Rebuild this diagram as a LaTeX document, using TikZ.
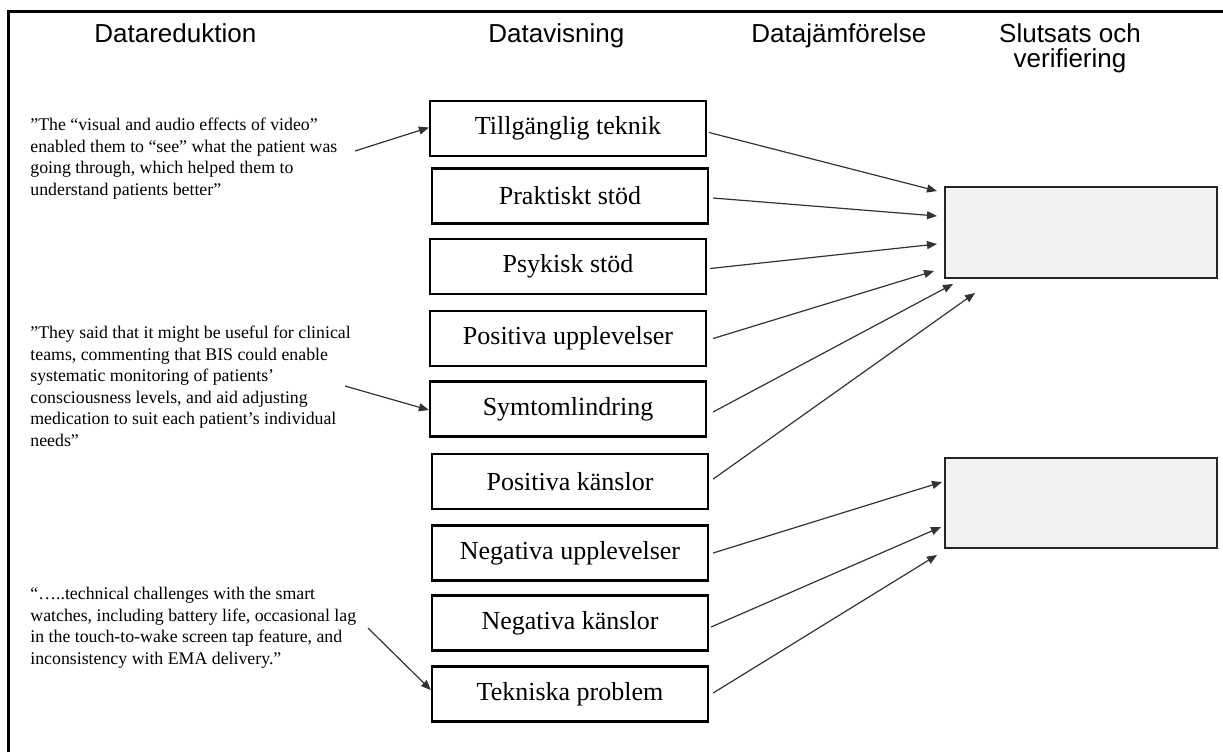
\documentclass[tikz,border=0pt]{standalone}
\usepackage{fontspec}
\setmainfont{Liberation Serif}
\newfontfamily\hdfont{Liberation Sans}
\usetikzlibrary{arrows.meta}
\tikzset{
  catbox/.style={draw=black, line width=1.1pt, fill=white, minimum width=138pt, minimum height=27.5pt, inner sep=0pt, font=\fontsize{13}{15}\selectfont},
  resbox/.style={draw=black!85, line width=1.1pt, fill=black!5, inner sep=0pt},
  hd/.style={font=\hdfont\fontsize{13}{12.5}\selectfont, inner sep=0pt, align=center},
  quote/.style={font=\fontsize{8.9}{10.75}\selectfont, inner sep=0pt, align=left, anchor=north west},
  conn/.style={draw=black!80, line width=0.6pt, -{Triangle[length=5pt,width=4pt]}},
}
\begin{document}
\begin{tikzpicture}[x=0.5pt, y=-0.5pt]
\useasboundingbox (0,0) rectangle (1223,752);
\fill[white] (0,0) rectangle (1223,752);
% frame (top and left visible)
\draw[line width=1.5pt] (8,752) -- (8,11) -- (1223,11);

% headers
\node[hd, anchor=base west] (h1) at (94,42) {Datareduktion};
\node[hd, anchor=base west] (h2) at (488,42) {Datavisning};
\node[hd, anchor=base west] (h3) at (751,42) {Datajämförelse};
\node[hd, anchor=north] (h4) at (1070,23) {Slutsats och\\verifiering};

% category boxes
\node[catbox] (b1) at (568,128.5) {Tillgänglig teknik};
\node[catbox] (b2) at (570,196) {Praktiskt stöd};
\node[catbox] (b3) at (568,266.5) {Psykisk stöd};
\node[catbox] (b4) at (568,338.5) {Positiva upplevelser};
\node[catbox] (b5) at (568,409) {Symtomlindring};
\node[catbox] (b6) at (570,481.5) {Positiva känslor};
\node[catbox] (b7) at (570,553) {Negativa upplevelser};
\node[catbox] (b8) at (570,623) {Negativa känslor};
\node[catbox] (b9) at (570,694) {Tekniska problem};

% result boxes
\node[resbox, minimum width=136pt, minimum height=45.5pt] (r1) at (1081,232.5) {};
\node[resbox, minimum width=136pt, minimum height=45pt] (r2) at (1081,503) {};

% quotes
\node[quote] (q1) at (30,118) {”The “visual and audio effects of video”\\enabled them to “see” what the patient was\\going through, which helped them to\\understand patients better”};
\node[quote] (q2) at (30,326) {”They said that it might be useful for clinical\\teams, commenting that BIS could enable\\systematic monitoring of patients’\\consciousness levels, and aid adjusting\\medication to suit each patient’s individual\\needs”};
\node[quote] (q3) at (30,587) {“…..technical challenges with the smart\\watches, including battery life, occasional lag\\in the touch-to-wake screen tap feature, and\\inconsistency with EMA delivery.”};

% arrow start points from quotes
\coordinate (s1) at (355,151);
\coordinate (s2) at (345,386);
\coordinate (s3) at (368,628);
\draw[conn] (s1) -- ([yshift=0.5pt]b1.west);
\draw[conn] (s2) -- ([yshift=-0.5pt]b5.west);
\draw[conn] (s3) -- ([yshift=2pt]b9.west);

% arrow end points near result boxes
\coordinate (e1) at (937,191);
\coordinate (e2) at (937,216);
\coordinate (e3) at (937,244);
\coordinate (e4) at (934,271);
\coordinate (e5) at (953,284);
\coordinate (e6) at (975,293);
\coordinate (e7) at (942,482);
\coordinate (e8) at (941,527);
\coordinate (e9) at (937,555);

\draw[conn] ([xshift=1pt,yshift=-2pt]b1.east) -- (e1);
\draw[conn] ([xshift=2pt,yshift=-1pt]b2.east) -- (e2);
\draw[conn] ([xshift=1.5pt,yshift=-1pt]b3.east) -- (e3);
\draw[conn] ([xshift=3pt]b4.east) -- (e4);
\draw[conn] ([xshift=3pt,yshift=-1.5pt]b5.east) -- (e5);
\draw[conn] ([xshift=2pt,yshift=1.2pt]b6.east) -- (e6);
\draw[conn] ([xshift=2pt]b7.east) -- (e7);
\draw[conn] ([xshift=1pt,yshift=-2pt]b8.east) -- (e8);
\draw[conn] ([xshift=2pt,yshift=0.5pt]b9.east) -- (e9);
\end{tikzpicture}
\end{document}
